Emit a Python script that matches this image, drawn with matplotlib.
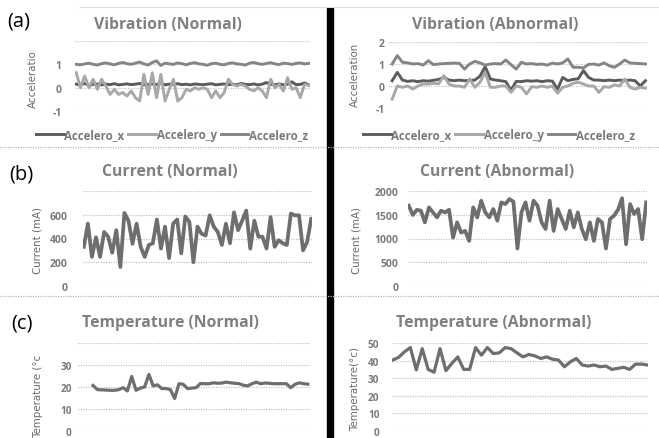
import matplotlib
matplotlib.use("Agg")
import matplotlib.pyplot as plt
import numpy as np
from matplotlib.lines import Line2D
from matplotlib.patches import Rectangle

# ---- data ----
vib_n_x = [0.15, 0.12, 0.18, 0.10, 0.14, 0.16, 0.12, 0.15, 0.13, 0.17,
           0.12, 0.14, 0.16, 0.13, 0.15, 0.18, 0.12, 0.14, 0.16, 0.13,
           0.20, 0.12, 0.15, 0.14, 0.17, 0.13, 0.15, 0.12, 0.16, 0.14,
           0.13, 0.15, 0.17, 0.12, 0.14, 0.16, 0.13, 0.15, 0.12, 0.18,
           0.14, 0.13, 0.16, 0.12, 0.15, 0.22, 0.14, 0.13, 0.16, 0.12,
           0.15, 0.25, 0.13, 0.14, 0.20, 0.12]
vib_n_y = [0.64, 0.0, 0.5, 0.0, 0.36, -0.07, 0.36, 0.07, -0.29, -0.07,
           -0.29, -0.21, -0.36, -0.14, -0.43, -0.57, 0.57, -0.29, 0.64, -0.43,
           0.57, -0.57, -0.07, 0.36, -0.57, -0.43, -0.07, -0.14, 0.0, -0.07,
           0.0, -0.07, -0.43, -0.14, -0.43, -0.21, 0.36, 0.14, 0.07, 0.14,
           0.07, -0.07, -0.14, 0.0, -0.14, -0.43, 0.36, 0.0, 0.14, -0.14,
           0.43, -0.07, 0.0, -0.43, 0.14, 0.1]
vib_n_z = [1.00, 0.98, 1.02, 1.05, 1.00, 0.97, 1.03, 1.06, 1.02, 0.98,
           1.04, 1.08, 1.03, 1.00, 1.05, 1.10, 1.02, 0.97, 1.08, 1.15,
           0.95, 1.05, 1.02, 1.00, 1.06, 1.03, 0.98, 1.04, 1.07, 1.02,
           1.00, 0.96, 1.03, 1.05, 1.00, 0.98, 1.04, 1.06, 1.02, 1.00,
           0.97, 1.05, 1.08, 1.03, 1.00, 1.04, 1.07, 1.02, 0.99, 1.05,
           1.03, 1.00, 1.04, 1.06, 1.02, 1.04]

vib_a_x = [0.24, 0.62, 0.27, 0.21, 0.24, 0.20, 0.24, 0.22, 0.26, 0.30,
           0.39, 0.27, 0.24, 0.27, 0.24, 0.25, 0.27, 0.45, 0.88, 0.32,
           0.27, 0.24, 0.20, -0.20, 0.21, 0.20, 0.24, 0.22, 0.24, 0.20,
           0.24, 0.22, -0.14, 0.39, 0.24, 0.30, 0.33, 0.70, 0.39, 0.27,
           0.27, 0.24, 0.27, 0.24, 0.27, 0.24, 0.27, 0.24, 0.0, 0.24]
vib_a_y = [-0.6, 0.0, -0.06, 0.0, -0.14, 0.0, 0.09, 0.09, 0.12, 0.10,
           0.47, 0.09, 0.0, 0.0, -0.06, 0.32, -0.06, 0.17, 0.62, -0.06,
           -0.06, 0.0, 0.0, -0.29, 0.0, -0.06, -0.36, -0.03, -0.06, 0.0,
           -0.06, 0.0, -0.33, -0.06, 0.0, 0.12, 0.17, 0.09, 0.0, 0.0,
           -0.29, -0.03, -0.06, 0.05, 0.0, 0.32, -0.06, -0.14, -0.06, -0.10]
vib_a_z = [1.00, 1.38, 1.08, 1.05, 1.00, 1.02, 0.95, 1.15, 0.97, 1.00,
           1.02, 1.03, 1.04, 1.03, 0.77, 1.00, 1.12, 1.05, 0.95, 1.00,
           1.02, 1.00, 1.18, 0.97, 0.77, 1.08, 1.00, 1.02, 0.98, 1.00,
           0.95, 1.04, 1.00, 1.05, 1.23, 0.85, 0.85, 0.82, 0.98, 1.00,
           0.95, 1.05, 0.92, 0.85, 1.00, 1.18, 1.05, 1.03, 1.02, 1.00]

cur_n = [330, 525, 245, 410, 245, 455, 415, 280, 470, 160,
         615, 550, 355, 525, 330, 245, 345, 360, 560, 315,
         500, 235, 525, 560, 275, 585, 540, 200, 500, 440,
         425, 595, 500, 455, 345, 525, 360, 620, 470, 550,
         635, 315, 550, 415, 415, 315, 580, 330, 385, 360,
         345, 610, 595, 595, 300, 370, 565]
cur_a = [1690, 1495, 1605, 1585, 1340, 1655, 1550, 1445, 1585, 1550,
         1605, 1020, 1340, 1125, 1160, 950, 1655, 1445, 1795, 1550,
         1445, 1620, 1375, 1760, 1725, 1830, 1775, 790, 1550, 1760,
         1375, 1795, 1690, 1340, 1200, 1795, 1160, 1620, 1410, 1200,
         1585, 1235, 1550, 1200, 985, 1340, 950, 1410, 1340, 790,
         1410, 1480, 1605, 1845, 880, 1725, 1515, 1620, 985, 1760]

temp_n = [20.7, 18.8, 18.7, 18.6, 18.5, 18.5, 18.8, 19.7, 18.2, 24.8,
          18.5, 19.5, 20.0, 25.7, 20.5, 21.0, 19.3, 19.3, 18.8, 14.8,
          21.5, 21.2, 19.3, 19.5, 19.7, 21.6, 21.5, 21.5, 21.9, 21.7,
          21.8, 22.2, 21.9, 21.7, 21.5, 20.8, 20.5, 21.5, 22.2, 21.5,
          21.8, 21.7, 21.5, 21.5, 21.5, 21.5, 19.7, 21.2, 21.9, 21.5, 21.3]
temp_a = [40.3, 41.8, 45.0, 47.4, 34.7, 46.8, 35.0, 33.4, 46.8, 34.3,
          38.4, 42.1, 35.0, 35.0, 47.4, 43.1, 47.4, 44.0, 44.4, 47.4,
          46.8, 44.4, 42.1, 43.5, 42.7, 41.2, 42.1, 40.8, 40.3, 36.5,
          39.3, 41.2, 37.5, 36.9, 37.5, 36.5, 36.9, 35.0, 35.6, 36.2,
          35.0, 38.0, 38.0, 37.5]

vib_names = ["Accelero_x", "Accelero_y", "Accelero_z"]
vib_colors = ["#5b5b5b", "#a8a8a8", "#858585"]

W, H = 659, 439
fig = plt.figure(figsize=(W / 100, H / 100), dpi=100)

TITLE_C = "#808080"
TICK_C = "#7a7a7a"
GRID_C = "#c4c4c4"


def px_axes(x0, y_top, x1, y_bot):
    return fig.add_axes([x0 / W, 1 - y_bot / H, (x1 - x0) / W, (y_bot - y_top) / H])


def ftext(x, y, s, **kw):
    fig.text(x / W, 1 - y / H, s, **kw)


def style(ax, ylim, ticks, labels, pad, size=7.5):
    ax.set_ylim(*ylim)
    for s in ax.spines.values():
        s.set_visible(False)
    ax.set_xticks([])
    ax.set_yticks(ticks, labels=labels)
    ax.tick_params(axis="y", length=0, pad=pad, labelsize=size, labelcolor=TICK_C)
    for lab in ax.get_yticklabels():
        lab.set_fontweight("bold")
        lab.set_family("Open Sans")
    ax.yaxis.grid(True, color=GRID_C, linestyle=(0, (1, 1)), linewidth=0.9)
    ax.set_axisbelow(True)
    ax.patch.set_alpha(0)


def title(x, y, s):
    ftext(x, y, s, ha="center", va="center", fontsize=11.3, color=TITLE_C,
          fontweight="bold", family="Open Sans")


def ylab(x, y, s):
    ftext(x, y, s, ha="center", va="center", rotation=90, fontsize=7.4,
          color="#6a6a6a", family=["Liberation Sans Narrow", "DejaVu Sans"])


def vib_legend(ax, cx):
    ax.legend(ncol=3, loc="center", bbox_to_anchor=(cx / W, 1 - 136 / H),
              bbox_transform=fig.transFigure, frameon=False, handlelength=2.4,
              columnspacing=0.35, handletextpad=0.05,
              prop={"size": 8.3, "weight": "bold", "family": "Open Sans"},
              labelcolor="#7a7a7a")


# ---- (a) vibration ----
ax = px_axes(75, 42, 310, 112)
n = len(vib_n_x)
for vals, name, c in zip([vib_n_x, vib_n_y, vib_n_z], vib_names, vib_colors):
    ax.plot(np.arange(n), vals, color=c, lw=2.1, label=name, solid_joinstyle="round")
ax.set_xlim(-0.3, n - 0.7)
style(ax, (-1, 2), [-1, 0, 1, 2], ["-1", "0", "1", ""], 9.5)
vib_legend(ax, 172)

ax = px_axes(388, 43, 648, 109)
n = len(vib_a_x)
for vals, name, c in zip([vib_a_x, vib_a_y, vib_a_z], vib_names, vib_colors):
    ax.plot(np.arange(n), vals, color=c, lw=2.1, label=name, solid_joinstyle="round")
ax.set_xlim(-0.8, n - 0.5)
style(ax, (-1, 2), [-1, 0, 1, 2], ["-1", "0", "1", "2"], 2.5)
vib_legend(ax, 499)

title(168, 25, "Vibration (Normal)")
title(495, 25, "Vibration (Abnormal)")
ylab(33, 79, "Acceleratio")
ylab(355, 75, "Acceleration")

# ---- (b) current ----
ax = px_axes(83, 192, 312, 287)
ax.plot(np.arange(len(cur_n)), cur_n, color="#6e6e6e", lw=2.7, solid_joinstyle="round")
ax.set_xlim(-0.2, len(cur_n) - 0.8)
style(ax, (0, 800), [0, 200, 400, 600, 800], ["0", "200", "400", "600", ""], 11)

ax = px_axes(408, 192, 647, 287)
ax.plot(np.arange(len(cur_a)), cur_a, color="#6e6e6e", lw=2.7, solid_joinstyle="round")
ax.set_xlim(-0.2, len(cur_a) - 0.8)
style(ax, (0, 2000), [0, 500, 1000, 1500, 2000],
      ["0", "500", "1000", "1500", "2000"], 7)

title(170, 172, "Current (Normal)")
title(497, 172, "Current (Abnormal)")
ylab(38, 240, "Current (mA)")
ylab(357, 240, "Current (mA)")

# ---- (c) temperature ----
ax = px_axes(78, 344, 310, 432)
ax.plot(np.arange(len(temp_n)), temp_n, color="#6e6e6e", lw=2.3, solid_joinstyle="round")
ax.set_xlim(-3.5, len(temp_n) - 0.5)
style(ax, (0, 40), [0, 10, 20, 30, 40], ["0", "10", "20", "30", ""], 4.5, 7.2)

ax = px_axes(392, 344, 648, 432)
ax.plot(np.arange(len(temp_a)), temp_a, color="#6e6e6e", lw=2.3, solid_joinstyle="round")
ax.set_xlim(-0.1, len(temp_a) - 0.9)
style(ax, (0, 50), [0, 10, 20, 30, 40, 50], ["0", "10", "20", "30", "40", "50"], 9, 7.2)

title(170, 323, "Temperature (Normal)")
title(494, 323, "Temperature (Abnormal)")
ylab(38, 396, "Temperature (°c")
ylab(355, 389, "Temperature(°c)")

# ---- panel letters ----
for x, y, s in [(7, 22, "(a)"), (9, 175, "(b)"), (11, 323, "(c)")]:
    ftext(x, y, s, ha="left", va="center", fontsize=14.5, family="Open Sans")

# ---- separators and the black divider ----
for y in [148, 297]:
    fig.add_artist(Line2D([0, 1], [1 - y / H] * 2, color="#b8b8b8",
                          linestyle=(0, (1, 1)), lw=0.9, transform=fig.transFigure))
fig.add_artist(Line2D([80 / W, 1], [1 - 8 / H] * 2, color="#e0e0e0", lw=0.8,
                      transform=fig.transFigure))
fig.add_artist(Rectangle((327 / W, 0), 6 / W, 1 - 9 / H, color="black",
                         transform=fig.transFigure))

fig.savefig("out.png", dpi=100)
